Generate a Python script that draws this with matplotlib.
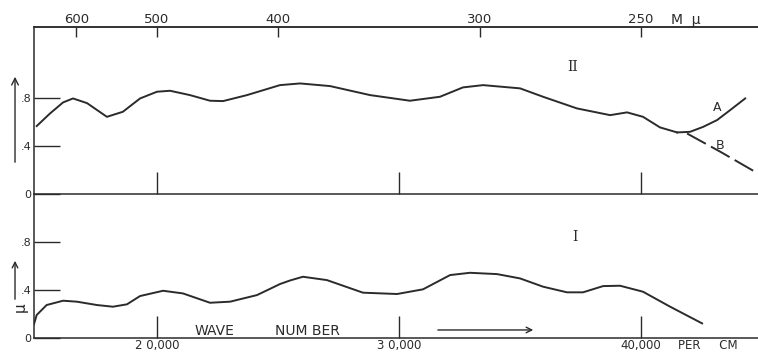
import numpy as np
import matplotlib
matplotlib.use("Agg")
import matplotlib.pyplot as plt

# curve II (upper panel), wave number per cm vs value
wn_II = [15030, 15580, 16120, 16530, 17110, 17930, 18590, 19300, 20000, 20540,
         21360, 22190, 22730, 23720, 25080, 25910, 27150, 28800, 30450, 31690,
         32640, 33470, 35000, 35950, 37350, 38720, 39420, 40080, 40780, 41490]
val_II = [0.567, 0.672, 0.764, 0.797, 0.758, 0.644, 0.686, 0.797, 0.853, 0.861,
          0.825, 0.778, 0.775, 0.825, 0.908, 0.922, 0.900, 0.825, 0.778, 0.811,
          0.889, 0.908, 0.881, 0.811, 0.714, 0.658, 0.681, 0.644, 0.556, 0.514]

# branches at the end of curve II
wn_A = [41490, 42020, 42560, 43140, 43680, 44300]
val_A = [0.514, 0.519, 0.560, 0.617, 0.700, 0.797]
wn_B = [41900, 43300, 44710]
val_B = [0.505, 0.350, 0.186]

# curve I (lower panel)
wn_I = [14920, 15030, 15440, 16120, 16690, 17520, 18180, 18760, 19300, 20250,
        21070, 22190, 23020, 24130, 24670, 25080, 25500, 26030, 27020, 28510,
        29920, 30990, 32110, 32930, 34050, 35000, 35950, 36940, 37600, 38430,
        39130, 40080, 41200, 42520]
val_I = [0.117, 0.192, 0.275, 0.311, 0.303, 0.275, 0.261, 0.281, 0.350, 0.394,
         0.372, 0.294, 0.303, 0.358, 0.410, 0.450, 0.480, 0.511, 0.483, 0.378,
         0.367, 0.406, 0.525, 0.544, 0.533, 0.497, 0.428, 0.381, 0.381, 0.433,
         0.436, 0.386, 0.261, 0.122]

top_wl = [600, 500, 400, 300, 250]
top_labels = ["600", "500", "400", "300", "250"]
bottom_ticks = [20000, 30000, 40000]
bottom_labels = ["2 0,000", "3 0,000", "40,000"]
y_ticks = [0, 0.4, 0.8]
y_labels = ["0", ".4", ".8"]

ink = "#2b2b2b"
plt.rcParams['font.family'] = ['DejaVu Sans']

fig = plt.figure(figsize=(7.58, 3.53), dpi=100)
fig.patch.set_facecolor("white")
ax2 = fig.add_axes([0.0449, 0.450, 0.9551, 0.4735])
ax1 = fig.add_axes([0.0449, 0.0425, 0.9551, 0.4075])

for ax in (ax1, ax2):
    ax.set_xlim(14920, 44830)
    ax.spines['right'].set_visible(False)
    for s in ax.spines.values():
        s.set_color(ink)
        s.set_linewidth(1.1)
    ax.set_yticks(y_ticks)
    ax.set_yticklabels(y_labels)
    ax.tick_params(axis='y', direction='in', length=19, width=1, color=ink,
                   labelsize=8, pad=2, labelcolor=ink)
    ax.set_xticks(bottom_ticks)
    ax.tick_params(axis='x', direction='in', length=16, width=1, color=ink,
                   labelcolor=ink)
    ax.patch.set_alpha(0)

ax2.set_ylim(0, 1.392)
ax1.set_ylim(0, 1.2)
ax1.spines['top'].set_visible(False)
ax2.tick_params(axis='x', labelbottom=False)
ax1.set_xticklabels(bottom_labels)
ax1.tick_params(axis='x', labelsize=8.5, pad=1)

top = ax2.twiny()
top.set_xlim(ax2.get_xlim())
top.set_xticks([1e7 / w for w in top_wl])
top.set_xticklabels(top_labels)
top.tick_params(axis='x', direction='in', length=7, width=1, color=ink,
                labelsize=9.5, pad=1, labelcolor=ink)
for side in ('left', 'right', 'bottom'):
    top.spines[side].set_visible(False)
top.spines['top'].set_color(ink)
top.spines['top'].set_linewidth(1.1)

lw = 1.4
ax2.plot(wn_II, val_II, color=ink, lw=lw, solid_joinstyle='round')
ax2.plot(wn_A, val_A, color=ink, lw=lw, solid_joinstyle='round')
ax2.plot(wn_B, val_B, color=ink, lw=lw, linestyle=(0, (11, 3)))
ax1.plot(wn_I, val_I, color=ink, lw=lw, solid_joinstyle='round')

ax2.text(41240, 1.45, "M  \u03bc", fontsize=10, color=ink, ha='left', va='center')
ax2.text(37190, 1.058, "II", fontsize=10, color=ink, family='DejaVu Serif',
         ha='center', va='center')
ax2.text(43140, 0.725, "A", fontsize=9, color=ink, ha='center', va='center')
ax2.text(43260, 0.408, "B", fontsize=9, color=ink, ha='center', va='center')

ax1.text(37270, 0.842, "I", fontsize=10, color=ink, family='DejaVu Serif',
         ha='center', va='center')
ax1.text(21570, 0.058, "WAVE", fontsize=10, color=ink, ha='left', va='center')
ax1.text(24870, 0.058, "NUM BER", fontsize=10, color=ink, ha='left', va='center')
ax1.annotate("", xy=(35660, 0.067), xytext=(31490, 0.067),
             arrowprops=dict(arrowstyle='->', color=ink, lw=1))
ax1.text(41530, -0.062, "PER     CM", fontsize=8.5, color=ink, ha='left', va='center')

fig.patches.append(matplotlib.patches.FancyArrowPatch(
    (0.0198, 0.5326), (0.0198, 0.7904), transform=fig.transFigure,
    arrowstyle='->', mutation_scale=12, color=ink, lw=1))
fig.patches.append(matplotlib.patches.FancyArrowPatch(
    (0.0198, 0.1445), (0.0198, 0.2691), transform=fig.transFigure,
    arrowstyle='->', mutation_scale=10, color=ink, lw=1))
fig.text(0.0264, 0.1303, "\u03bc", fontsize=11, color=ink, rotation=90,
         ha='center', va='center')

fig.savefig("out.png", dpi=100)
